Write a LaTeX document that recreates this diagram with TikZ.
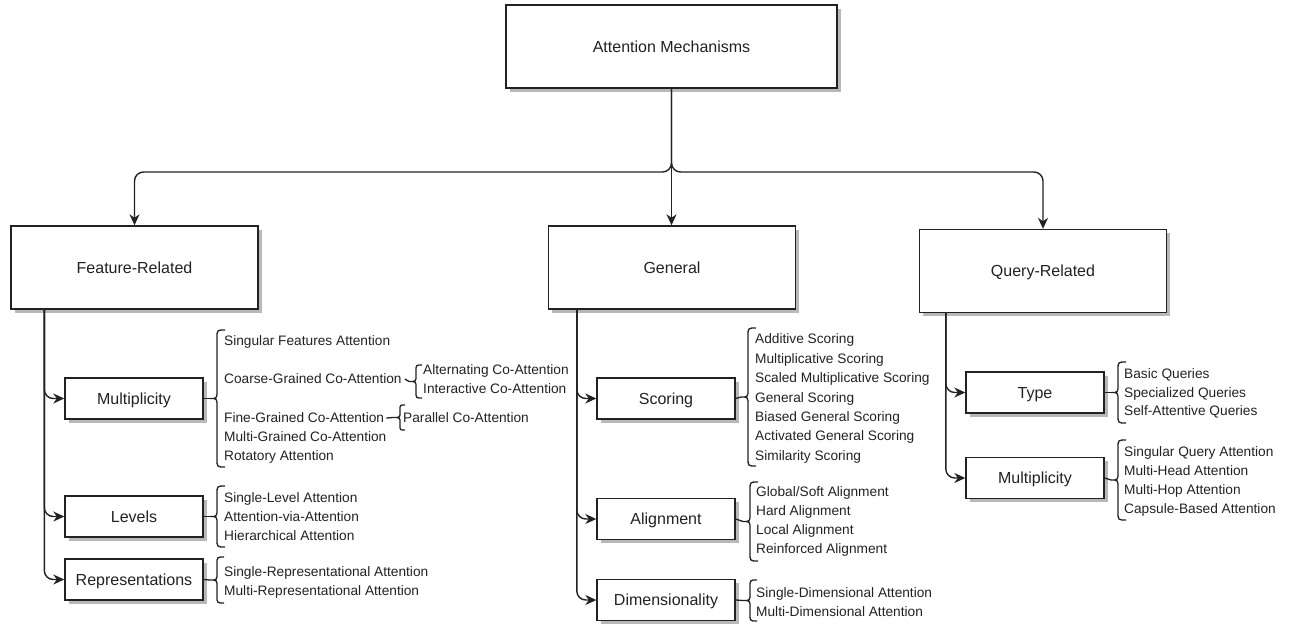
\documentclass[tikz,border=0pt]{standalone}
\usepackage{fontspec}
\setmainfont{Liberation Sans}
\usetikzlibrary{arrows.meta,shadows}
\definecolor{ln}{HTML}{222222}
\tikzset{
 box/.style={draw=ln, line width=1.4pt, fill=white,
   drop shadow={shadow xshift=3.5pt, shadow yshift=-3.5pt, fill=black!28, opacity=1},
   font=\fontsize{16}{19}\selectfont, text=ln, text height=11.5pt, text depth=0pt, inner sep=0pt},
 bigbox/.style={box, minimum width=247pt, minimum height=83pt},
 subbox/.style={box, minimum width=138pt, minimum height=41pt},
 item/.style={anchor=west, inner sep=0pt, font=\fontsize{13.7}{16}\selectfont, text=ln,
   text height=9.8pt, text depth=0pt},
 arr/.style={draw=ln, line width=1.4pt, -{Stealth[length=11pt,width=10pt,inset=3.5pt]}, rounded corners=9pt},
 brc/.style={draw=ln, line width=1.3pt},
}
% name, x, y1, y2, r
\newcommand{\curlyb}[5]{%
  \coordinate (#1) at ({#2-7},{(#3+#4)/2});
  \draw[brc] ({#2+#5},#3) .. controls (#2,#3) .. (#2,{#3+#5})
     -- (#2,{(#3+#4)/2-#5}) .. controls (#2,{(#3+#4)/2}) .. (#1)
     .. controls (#2,{(#3+#4)/2}) .. (#2,{(#3+#4)/2+#5})
     -- (#2,{#4-#5}) .. controls (#2,#4) .. ({#2+#5},#4);
}
\begin{document}
\begin{tikzpicture}[x=1pt,y=-1pt]
\useasboundingbox (0,0) rectangle (1292,624);

% top level boxes
\node[box, minimum width=331pt, minimum height=83pt] (top) at (671.5,46.5) {Attention Mechanisms};
\node[bigbox] (feat) at (134.5,267.5) {Feature-Related};
\node[bigbox] (gen) at (672,267.5) {General};
\node[bigbox] (query) at (1043,271) {Query-Related};

\coordinate (hub) at (671.5,172);
\draw[arr] (top.south) -- (top.south |- gen.north);
\draw[arr] (top.south) -- (hub) -| (feat.north);
\draw[arr] (top.south) -- (hub) -| (query.north);

% sub boxes
\node[subbox] (fmult) at (134,398.5) {Multiplicity};
\node[subbox] (flev) at (134,516.5) {Levels};
\node[subbox] (frep) at (134,579.5) {Representations};
\node[subbox] (gsco) at (666,398.5) {Scoring};
\node[subbox] (gali) at (666,519) {Alignment};
\node[subbox] (gdim) at (666,600) {Dimensionality};
\node[subbox] (qtyp) at (1035,392.5) {Type};
\node[subbox] (qmul) at (1035,478) {Multiplicity};

\draw[arr] ([xshift=34pt]feat.south west) |- (fmult.west);
\draw[arr] ([xshift=34pt]feat.south west) |- (flev.west);
\draw[arr] ([xshift=34pt]feat.south west) |- (frep.west);
\draw[arr] ([xshift=29pt]gen.south west) |- (gsco.west);
\draw[arr] ([xshift=29pt]gen.south west) |- (gali.west);
\draw[arr] ([xshift=29pt]gen.south west) |- (gdim.west);
\draw[arr] ([xshift=27pt]query.south west) |- (qtyp.west);
\draw[arr] ([xshift=27pt]query.south west) |- (qmul.west);

% Feature / Multiplicity
\curlyb{bfm}{217}{330}{467}{8}
\draw[brc] (fmult.east) -- (bfm);
\node[item] (f1) at (224,341) {Singular Features Attention};
\node[item] (f2) at (224,379) {Coarse-Grained Co-Attention};
\node[item] (f3) at (224,418) {Fine-Grained Co-Attention};
\node[item] (f4) at (224,437) {Multi-Grained Co-Attention};
\node[item] (f5) at (224,456) {Rotatory Attention};
\curlyb{bco}{416}{365}{398}{6}
\draw[brc] ([xshift=3pt]f2.east) -- (bco);
\node[item] (c1) at (423,370) {Alternating Co-Attention};
\node[item] (c2) at (423,389) {Interactive Co-Attention};
\curlyb{bfi}{400}{405}{430}{5}
\draw[brc] ([xshift=2pt]f3.east) -- (bfi);
\node[item] (p1) at (403,418) {Parallel Co-Attention};

% Levels
\curlyb{blev}{217}{486}{547}{8}
\draw[brc] (flev.east) -- (blev);
\foreach \t [count=\i] in {Single-Level Attention,Attention-via-Attention,Hierarchical Attention}
  \node[item] (lv\i) at (224,{498+(\i-1)*19}) {\t};

% Representations
\curlyb{brep}{217}{557}{603}{7}
\draw[brc] (frep.east) -- (brep);
\foreach \t [count=\i] in {Single-Representational Attention,Multi-Representational Attention}
  \node[item] (rp\i) at (224,{572+(\i-1)*19}) {\t};

% Scoring
\curlyb{bsco}{748}{328}{466}{8}
\draw[brc] (gsco.east) -- (bsco);
\foreach \t [count=\i] in {Additive Scoring,Multiplicative Scoring,Scaled Multiplicative Scoring,General Scoring,Biased General Scoring,Activated General Scoring,Similarity Scoring}
  \node[item] (sc\i) at (755,{339+(\i-1)*19.4}) {\t};

% Alignment
\curlyb{bali}{750}{482}{561}{8}
\draw[brc] (gali.east) -- (bali);
\foreach \t [count=\i] in {Global/Soft Alignment,Hard Alignment,Local Alignment,Reinforced Alignment}
  \node[item] (al\i) at (756,{492+(\i-1)*19}) {\t};

% Dimensionality
\curlyb{bdim}{750}{580}{621}{7}
\draw[brc] (gdim.east) -- (bdim);
\foreach \t [count=\i] in {Single-Dimensional Attention,Multi-Dimensional Attention}
  \node[item] (dm\i) at (756,{593+(\i-1)*19}) {\t};

% Type
\curlyb{btyp}{1118}{362}{423}{8}
\draw[brc] (qtyp.east) -- (btyp);
\foreach \t [count=\i] in {Basic Queries,Specialized Queries,Self-Attentive Queries}
  \node[item] (ty\i) at (1124,{374+(\i-1)*18.5}) {\t};

% Query Multiplicity
\curlyb{bqm}{1118}{440}{520}{8}
\draw[brc] (qmul.east) -- (bqm);
\foreach \t [count=\i] in {Singular Query Attention,Multi-Head Attention,Multi-Hop Attention,Capsule-Based Attention}
  \node[item] (qm\i) at (1124,{452+(\i-1)*19}) {\t};
\end{tikzpicture}
\end{document}
